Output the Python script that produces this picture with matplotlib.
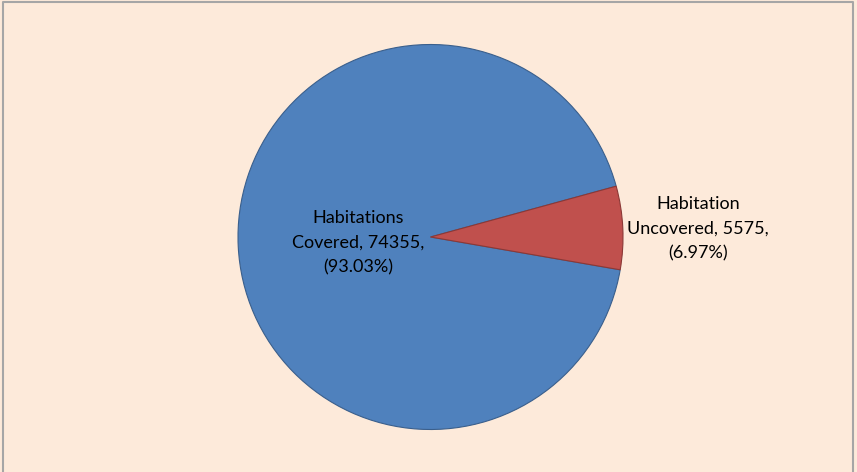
import matplotlib
matplotlib.use("Agg")
import matplotlib.pyplot as plt
from matplotlib.lines import Line2D

categories = ["Habitations\nCovered", "Habitation\nUncovered"]
values = [74355, 5575]
percents = [93.03, 6.97]
colors = ["#4F81BD", "#C0504D"]
edge_colors = ["#3A5F8C", "#8C3836"]

W, H = 857, 472
fig = plt.figure(figsize=(W / 100, H / 100), dpi=100)
fig.patch.set_facecolor("#FDEADA")

# outer frame (left, top, right)
frame_x = [2.5 / W, 2.5 / W, 853 / W, 853 / W]
frame_y = [0, 1 - 1.5 / H, 1 - 1.5 / H, 0]
fig.lines.append(Line2D(frame_x, frame_y, transform=fig.transFigure,
                        color="#A6A6A6", linewidth=1.5))

cx, cy, r = 430.5, 237, 192.5
ax = fig.add_axes([(cx - r) / W, (H - cy - r) / H, 2 * r / W, 2 * r / H])
ax.set_facecolor("none")

wedges, _ = ax.pie(values, colors=colors, startangle=15.3, counterclock=True,
                   radius=1.0, wedgeprops=dict(linewidth=0.8))
for w, ec in zip(wedges, edge_colors):
    w.set_edgecolor(ec)
ax.set_xlim(-1, 1)
ax.set_ylim(-1, 1)
ax.set_aspect("equal")
ax.axis("off")

font = ["Lato", "DejaVu Sans"]
label_pos = [(358, 243), (698, 229)]
for cat, v, p, (lx, ly) in zip(categories, values, percents, label_pos):
    txt = f"{cat}, {v},\n({p:.2f}%)"
    fig.text(lx / W, 1 - ly / H, txt, ha="center", va="center",
             fontsize=13, family=font, color="black", linespacing=1.65)

fig.savefig("out.png", dpi=100, facecolor=fig.get_facecolor())
